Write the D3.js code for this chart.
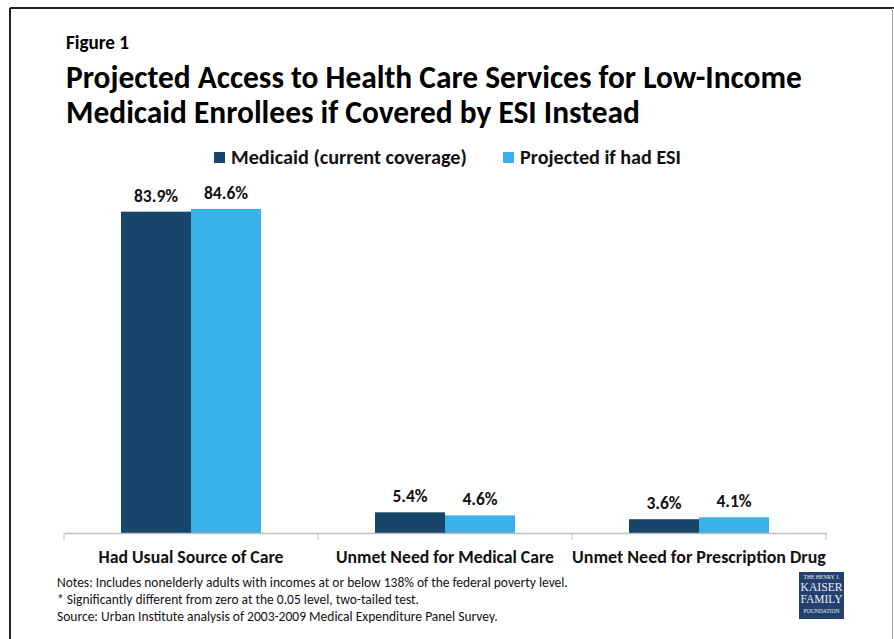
<!DOCTYPE html>
<html>
<head>
<meta charset="utf-8">
<script src="https://cdn.jsdelivr.net/npm/d3@7"></script>
<style>
  body { margin: 0; background: #fff; }
  svg { display: block; }
  text { font-family: Calibri, Carlito, Lato, "Open Sans", sans-serif; }
</style>
</head>
<body>
<svg id="viz"></svg>
<script>
var categories = ["Had Usual Source of Care", "Unmet Need for Medical Care", "Unmet Need for Prescription Drug"];
var seriesNames = ["Medicaid (current coverage)", "Projected if had ESI"];
var medicaid = [83.9, 5.4, 3.6];
var esi = [84.6, 4.6, 4.1];
var notes = [
    "Notes: Includes nonelderly adults with incomes at or below 138% of the federal poverty level.",
    "* Significantly different from zero at the 0.05 level, two-tailed test.",
    "Source: Urban Institute analysis of 2003-2009 Medical Expenditure Panel Survey."
];

var width = 894, height = 639;
var colors = ["#17456b", "#3ab2e8"];

var svg = d3.select("#viz").attr("width", width).attr("height", height);

// shrink/grow the font so the text spans about the width seen in the picture
function fit(sel, target) {
    sel.each(function() {
        var fs = parseFloat(d3.select(this).attr("font-size"));
        var w = this.getComputedTextLength();
        if (w > 0) d3.select(this).attr("font-size", (fs * target / w).toFixed(2));
    });
}

// frame
svg.append("line").attr("x1", 10).attr("x2", 894).attr("y1", 8).attr("y2", 8)
    .attr("stroke", "#222").attr("stroke-width", 2);
svg.append("line").attr("x1", 10).attr("x2", 10).attr("y1", 8).attr("y2", 639)
    .attr("stroke", "#222").attr("stroke-width", 2);
svg.append("line").attr("x1", 892.5).attr("x2", 892.5).attr("y1", 8).attr("y2", 639)
    .attr("stroke", "#aaa").attr("stroke-width", 1);

svg.append("text").attr("x", 66).attr("y", 49).attr("font-size", 15).attr("font-weight", "bold")
    .text("Figure 1").call(fit, 63);
svg.append("text").attr("x", 66).attr("y", 88).attr("font-size", 27).attr("font-weight", "bold")
    .text("Projected Access to Health Care Services for Low-Income").call(fit, 736);
svg.append("text").attr("x", 66).attr("y", 123).attr("font-size", 27).attr("font-weight", "bold")
    .text("Medicaid Enrollees if Covered by ESI Instead").call(fit, 574);

// legend
var legendX = [214, 503], legendW = [236, 161];
seriesNames.forEach(function(name, i) {
    svg.append("rect").attr("x", legendX[i]).attr("y", 152).attr("width", 11).attr("height", 11)
        .attr("fill", colors[i]);
    svg.append("text").attr("x", legendX[i] + 17).attr("y", 164).attr("font-size", 16)
        .attr("font-weight", "bold").attr("fill", "#111").text(name).call(fit, legendW[i]);
});

var x0 = d3.scaleBand().domain(categories).range([64, 826]).paddingInner(0).paddingOuter(0);
var x1 = d3.scaleBand().domain([0, 1]).range([57, 197]);
var y = d3.scaleLinear().domain([0, 100]).range([533, 150]);

var rows = categories.map(function(c, i) { return {cat: c, vals: [medicaid[i], esi[i]]}; });

var groups = svg.append("g").selectAll("g").data(rows).enter().append("g")
    .attr("transform", function(d) { return "translate(" + x0(d.cat) + ",0)"; });

groups.selectAll("rect").data(function(d) { return d.vals; }).enter().append("rect")
    .attr("x", function(d, i) { return x1(i); })
    .attr("width", x1.bandwidth())
    .attr("y", function(d) { return y(d); })
    .attr("height", function(d) { return y(0) - y(d); })
    .attr("fill", function(d, i) { return colors[i]; });

groups.selectAll("text.val").data(function(d) { return d.vals; }).enter().append("text")
    .attr("class", "val")
    .attr("x", function(d, i) { return x1(i) + x1.bandwidth() / 2; })
    .attr("y", function(d) { return y(d) - 10; })
    .attr("text-anchor", "middle").attr("font-size", 17.5).attr("font-weight", "bold").attr("fill", "#111")
    .text(function(d) { return d.toFixed(1) + "%"; });

// axis
var axis = svg.append("g").attr("transform", "translate(0,533)")
    .call(d3.axisBottom(x0).tickSize(0).tickFormat(""));
axis.select(".domain").attr("stroke", "#bfbfbf").attr("stroke-width", 1.5);
axis.selectAll("line.sep").data(x0.domain().map(x0).concat([826])).enter().append("line")
    .attr("class", "sep").attr("x1", function(d) { return d; }).attr("x2", function(d) { return d; })
    .attr("y1", 0).attr("y2", 7).attr("stroke", "#bfbfbf");

var catW = [185, 218, 254];
categories.forEach(function(c, i) {
    svg.append("text").attr("x", x0(c) + x0.bandwidth() / 2).attr("y", 563)
        .attr("text-anchor", "middle").attr("font-size", 15).attr("font-weight", "bold").attr("fill", "#111")
        .text(c).call(fit, catW[i]);
});

var noteW = [511, 362, 441];
notes.forEach(function(n, i) {
    svg.append("text").attr("x", 57).attr("y", 587 + i * 17).attr("font-size", 11.5).attr("fill", "#111")
        .text(n).call(fit, noteW[i]);
});

// KFF logo block
var logo = svg.append("g").attr("transform", "translate(799,572)");
logo.append("rect").attr("width", 45).attr("height", 47).attr("fill", "#24406e");
var logoLines = [["THE HENRY J.", 7, 5], ["KAISER", 19, 12], ["FAMILY", 31, 12], ["FOUNDATION", 41, 5]];
logoLines.forEach(function(l) {
    logo.append("text").attr("x", 22.5).attr("y", l[1]).attr("text-anchor", "middle")
        .style("font-family", "'Liberation Serif', serif")
        .attr("font-size", l[2]).attr("fill", "#e8ecf3").text(l[0]).call(fit, l[2] < 8 ? 36 : 42);
});
</script>
</body>
</html>
